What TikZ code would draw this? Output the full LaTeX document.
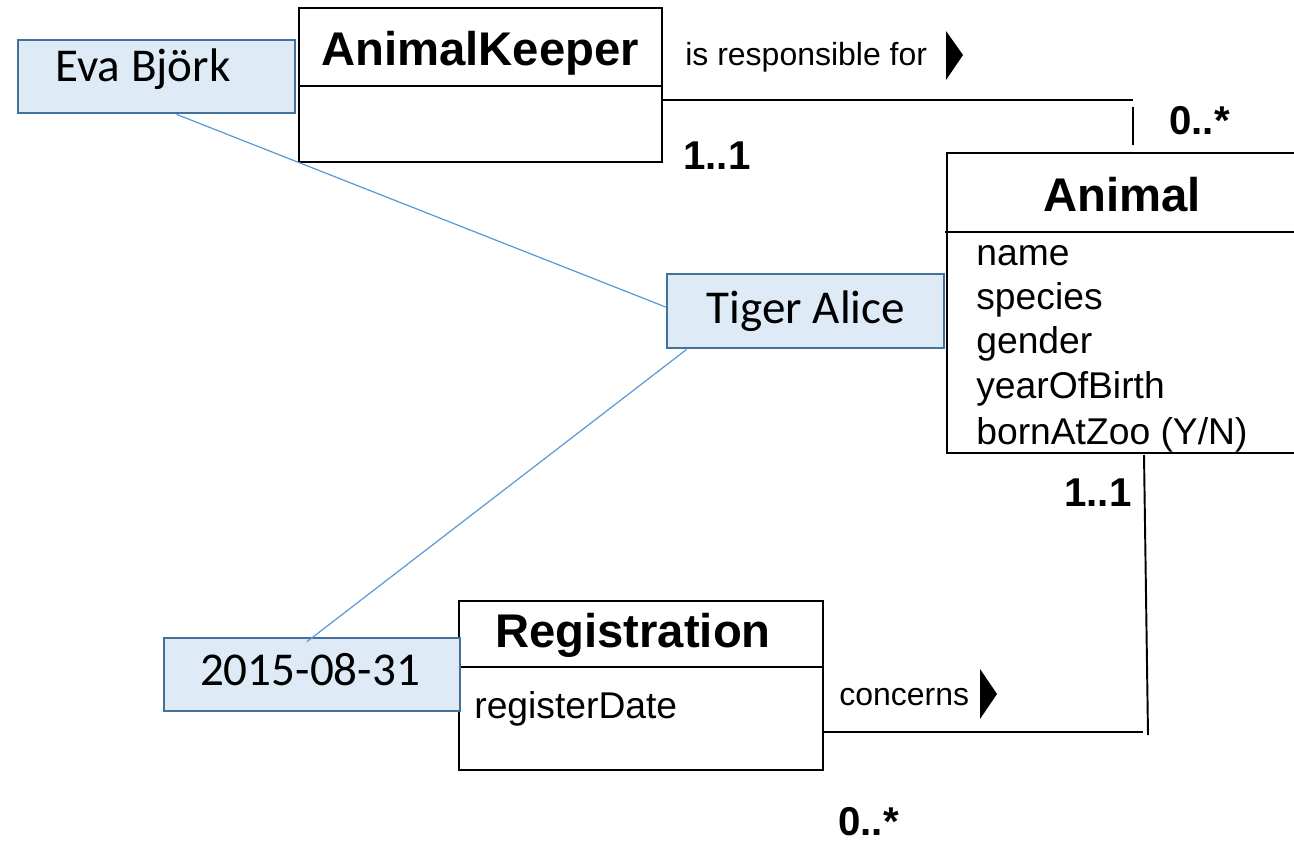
\documentclass[tikz,border=0pt]{standalone}
\usepackage{fontspec}
\setmainfont{Liberation Sans}
\newfontfamily\calibri{Carlito}
\usetikzlibrary{calc}
\definecolor{objfill}{HTML}{DEEBF7}
\definecolor{objdraw}{HTML}{41719C}
\definecolor{linkblue}{HTML}{5B9BD5}
\begin{document}
\begin{tikzpicture}[x=0.02cm,y=-0.02cm,
  classbox/.style={draw=black, line width=1.1pt, fill=white, rectangle, inner sep=0pt},
  objbox/.style={draw=objdraw, fill=objfill, line width=1.6pt, rectangle, inner sep=0pt},
  objtext/.style={font=\calibri\fontsize{26.8}{32}\selectfont, inner sep=0pt, anchor=base},
  classtitle/.style={font=\bfseries\fontsize{26.9}{32}\selectfont, inner sep=0pt, anchor=base},
  attr/.style={font=\fontsize{21.2}{25}\selectfont, inner sep=0pt, anchor=base west},
  assoclabel/.style={font=\fontsize{18.2}{21}\selectfont, inner sep=0pt, anchor=base west},
  mult/.style={font=\bfseries\fontsize{22.9}{27}\selectfont, inner sep=0pt, anchor=base west},
  assocline/.style={draw=black, line width=1.1pt},
  linkline/.style={draw=linkblue, line width=0.7pt},
  dirtri/.style={fill=black, draw=none}]
\useasboundingbox (0,0) rectangle (1294,841);
\clip (0,0) rectangle (1294,841);

% ---- classes ----
\node[classbox, minimum width=7.26cm, minimum height=3.08cm] (keeper) at (480.5,85) {};
\draw[assocline] (keeper.west |- 0,86) -- (keeper.east |- 0,86);
\node[classtitle] (keepert) at (480,66) {AnimalKeeper};

\node[classbox, minimum width=7.26cm, minimum height=6.0cm] (animal) at (1128.5,303) {};
\draw[assocline] (945,232) -- (animal.east |- 0,232);
\node[classtitle] (animalt) at (1122,212) {Animal};
\node[attr] (a1) at (976,265) {name};
\node[attr] (a2) at (976,309) {species};
\node[attr] (a3) at (976,353) {gender};
\node[attr] (a4) at (976,398) {yearOfBirth};
\node[attr] (a5) at (976,444) {bornAtZoo (Y/N)};

\node[classbox, minimum width=7.28cm, minimum height=3.38cm] (reg) at (641,685.5) {};
\draw[assocline] (reg.west |- 0,667) -- (reg.east |- 0,667);
\node[classtitle] (regt) at (633,647) {Registration};
\node[attr] (r1) at (474,718) {registerDate};

% ---- associations ----
\coordinate (kend) at (1133,100);
\coordinate (ktick1) at (1133,107);
\coordinate (ktick2) at (1133,145);
\draw[assocline] (keeper.east |- kend) -- (kend);
\draw[assocline] (ktick1) -- (ktick2);
\node[assoclabel] (resp) at (685,66) {is responsible for};
\draw[dirtri] (946,31) -- (963,55) -- (946,80) -- cycle;
\node[mult] (m1) at (683,170) {1..1};
\node[mult] (m2) at (1169,135) {0..*};

\coordinate (cend) at (1143,732);
\coordinate (vtop) at (1144,455);
\coordinate (vbot) at (1148,735);
\draw[assocline] (reg.east |- cend) -- (cend);
\draw[assocline] (vtop) -- (vbot);
\node[assoclabel] (conc) at (839,705) {concerns};
\draw[dirtri] (980,669) -- (997,694) -- (980,719) -- cycle;
\node[mult] (m3) at (1064,506) {1..1};
\node[mult] (m4) at (838,835) {0..*};

% ---- objects ----
\node[objbox, minimum width=5.54cm, minimum height=1.46cm] (eva) at (156.5,76.5) {};
\node[objbox, minimum width=5.54cm, minimum height=1.48cm] (tiger) at (805.5,311) {};
\node[objbox, minimum width=5.92cm, minimum height=1.46cm] (date) at (312,674.5) {};

\draw[linkline] ($(eva.south west)+(160,0)$) -- ($(tiger.west)+(0,-4)$);
\draw[linkline] ($(tiger.south west)+(21,0)$) -- ($(date.north)+(-5,5)$);

\node[objtext] (evat) at (143,82) {Eva Björk};
\node[objtext] (tigert) at (806,323) {Tiger Alice};
\node[objtext] (datet) at (310,685) {2015-08-31};
\end{tikzpicture}
\end{document}
